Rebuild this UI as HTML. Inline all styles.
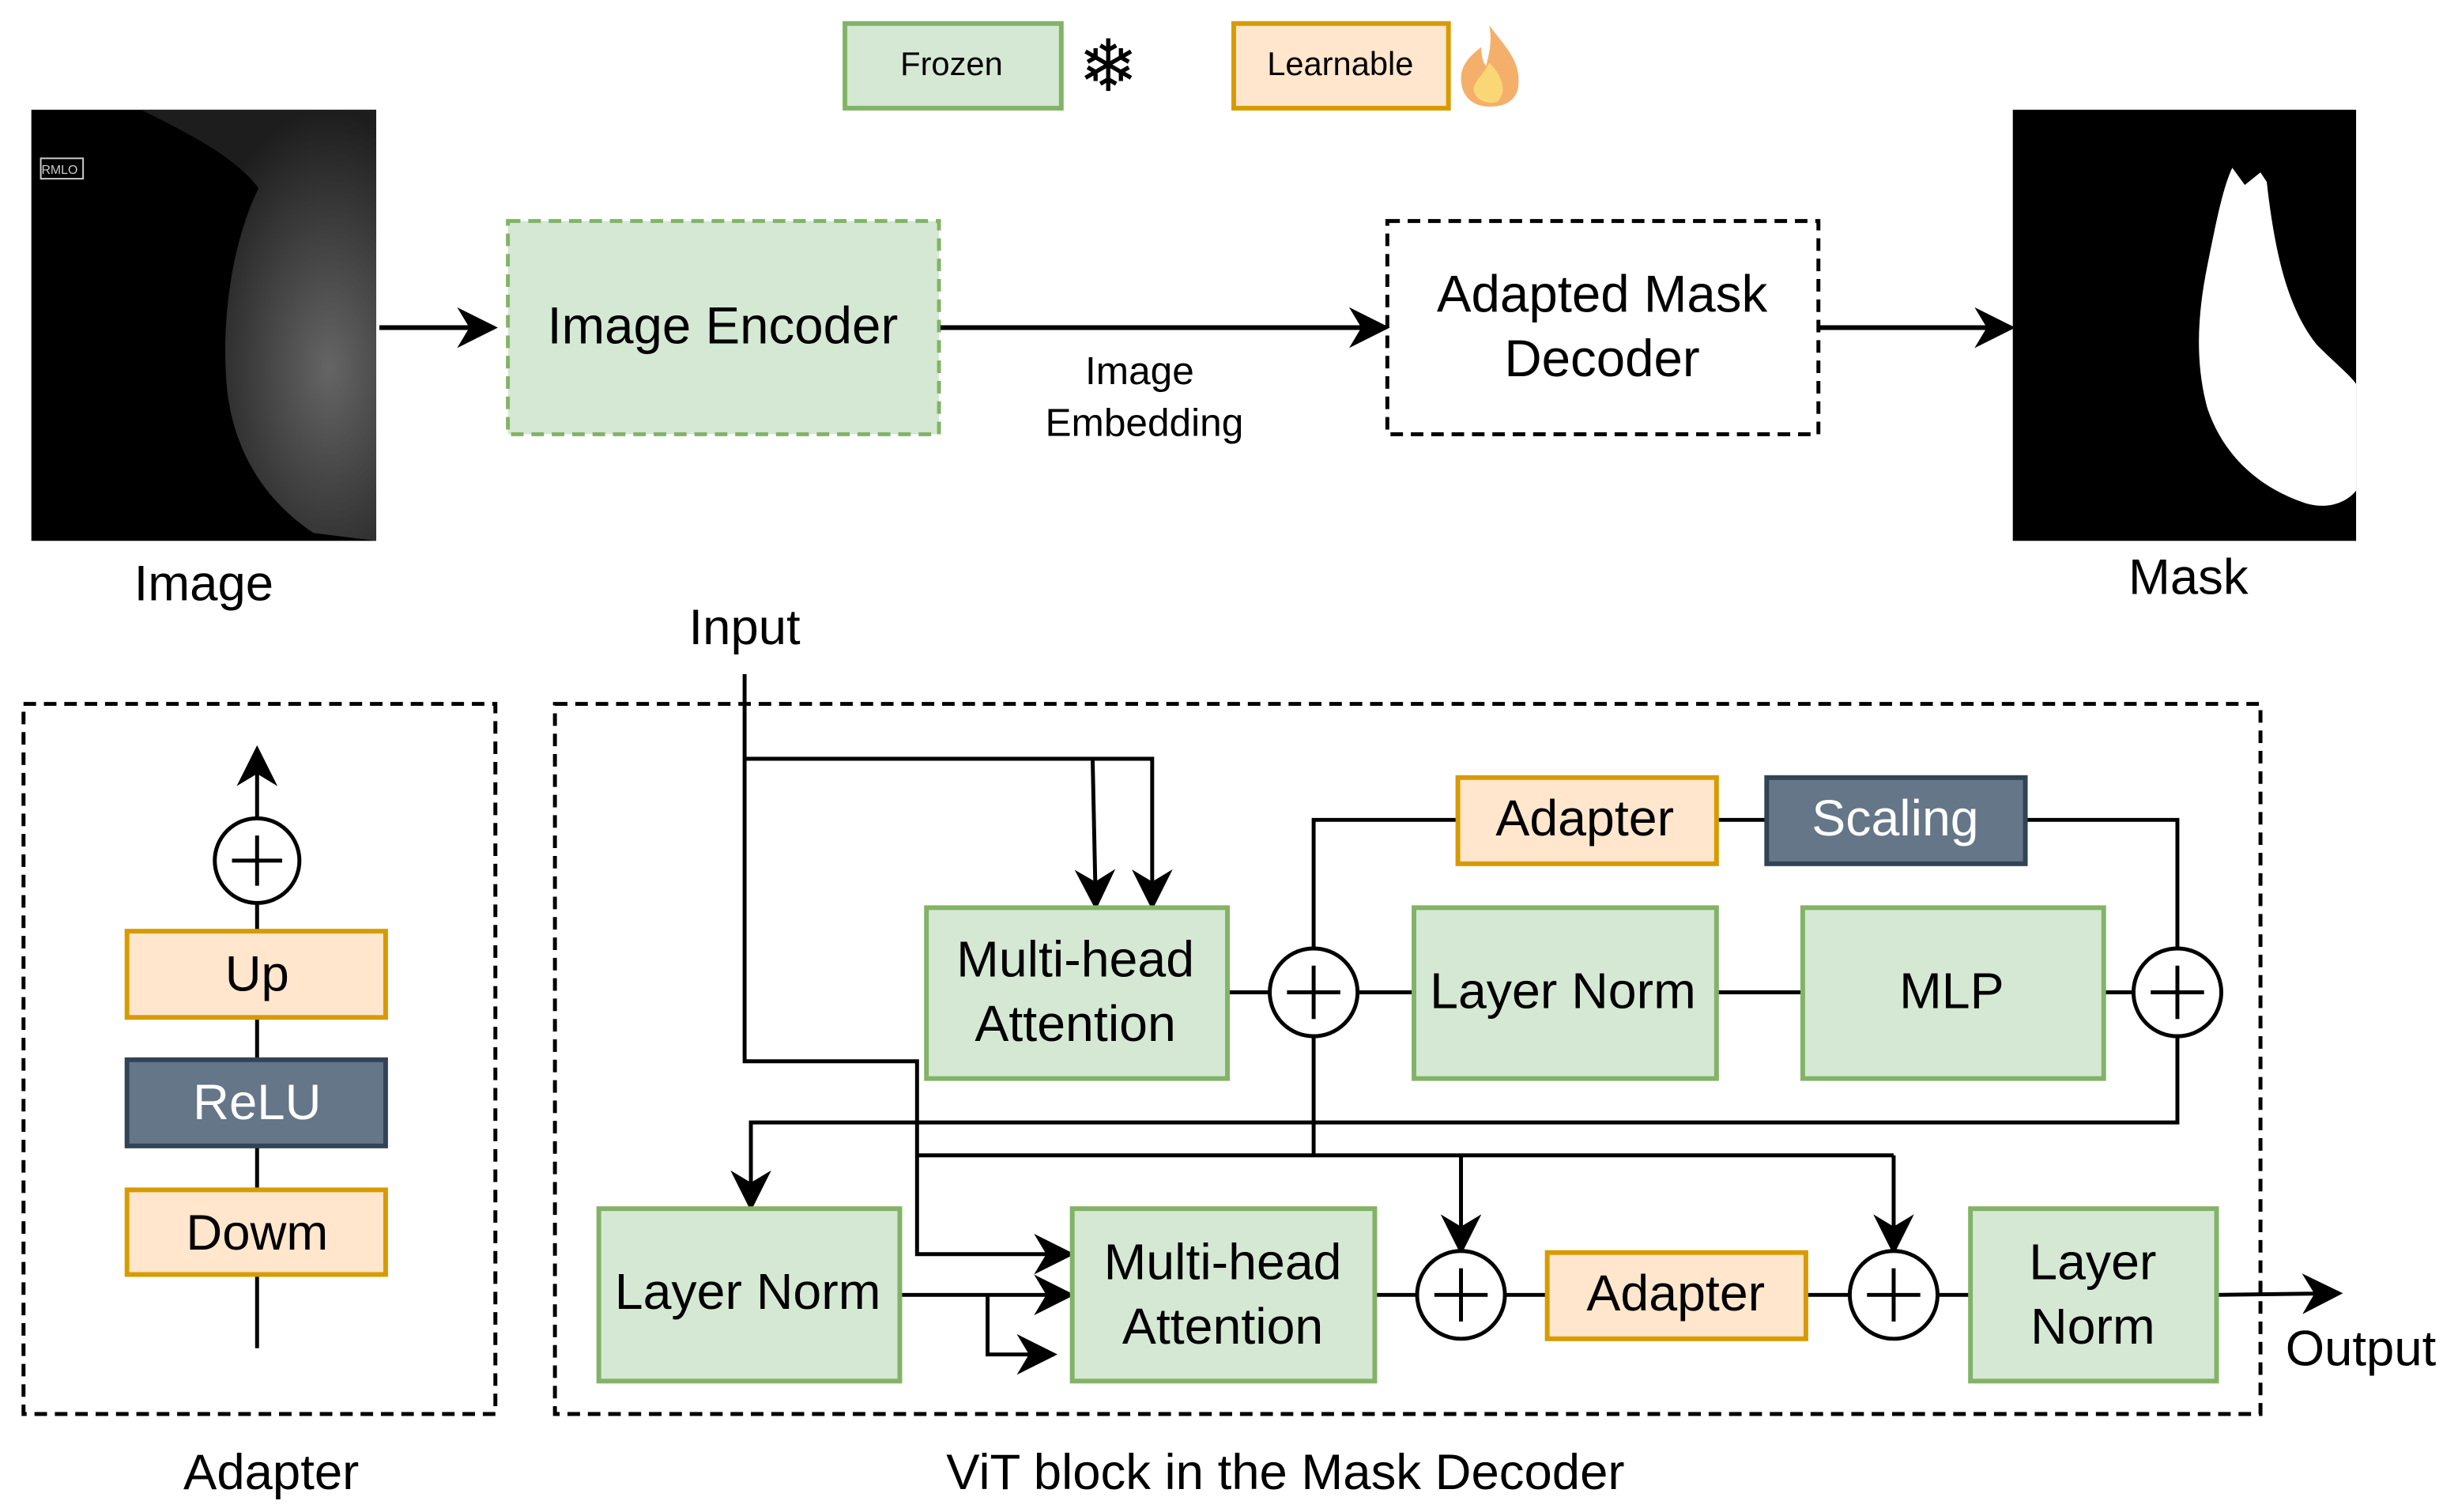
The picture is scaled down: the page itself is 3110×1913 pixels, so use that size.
<!DOCTYPE html>
<html><head><meta charset="utf-8"><style>
html,body{margin:0;padding:0;background:#fff;}
svg{display:block;}
text{font-family:"Liberation Sans",sans-serif;fill:#000;text-anchor:middle;}
</style></head><body>
<svg width="3110" height="1913" viewBox="0 0 1568 964.5" xmlns="http://www.w3.org/2000/svg">
<defs>
<marker id="b" viewBox="0 0 10 10" refX="9" refY="5" markerWidth="26" markerHeight="26" orient="auto" markerUnits="userSpaceOnUse">
<path d="M0,0 L10,5 L0,10 L3,5 z" fill="#000"/></marker>
<radialGradient id="mg" cx="0.8" cy="0.6" r="0.6"><stop offset="0" stop-color="#777"/><stop offset="1" stop-color="#222"/></radialGradient>
</defs>
<!-- legend -->
<rect x="539" y="15" width="138" height="54" fill="#d5e8d4" stroke="#82b366" stroke-width="3"/>
<text x="607" y="48" font-size="21">Frozen</text>
<text x="707" y="58" font-size="46" style="font-family:'DejaVu Sans',sans-serif">❄</text>
<rect x="787" y="15" width="137" height="54" fill="#ffe6cc" stroke="#d79b00" stroke-width="3"/>
<text x="855" y="48" font-size="21">Learnable</text>
<path d="M950,16 C960,30 972,40 968,58 C965,66 958,68 950,68 C940,68 932,62 932,50 C932,40 940,34 945,30 C945,36 946,40 948,42 C950,34 952,26 950,16z" fill="#f4b06a"/>
<path d="M950,40 C958,48 962,58 955,65 C948,67 940,63 940,56 C942,50 946,48 950,40z" fill="#fad776"/>
<!-- mammogram -->
<rect x="20" y="70" width="220" height="275" fill="#000"/>
<path d="M90,70 L240,70 L240,345 L200,340 C170,320 150,290 145,250 C140,200 150,150 165,120 C150,100 120,85 90,70z" fill="url(#mg)" opacity="0.85"/>
<rect x="26" y="101" width="27" height="13" fill="none" stroke="#ccc" stroke-width="1"/>
<text x="38" y="111" font-size="8" style="fill:#ccc">RMLO</text>
<text x="130" y="383" font-size="32">Image</text>
<!-- mask -->
<rect x="1284" y="70" width="219" height="275" fill="#000"/>
<path d="M1424,107 L1432,118 L1442,110 L1446,116 C1452,170 1462,200 1478,220 C1490,232 1500,240 1503,245 L1503,313 C1495,323 1480,325 1468,320 C1440,310 1418,290 1408,260 C1400,230 1402,200 1408,170 C1414,140 1418,120 1424,107z" fill="#fff"/>
<text x="1396" y="379" font-size="32">Mask</text>
<!-- top flow -->
<rect x="324" y="141" width="275" height="136" fill="#d5e8d4" stroke="#82b366" stroke-width="2.5" stroke-dasharray="8,5"/>
<text x="461" y="219" font-size="33">Image Encoder</text>
<rect x="885" y="141" width="275" height="136" fill="#fff" stroke="#000" stroke-width="2.5" stroke-dasharray="8,5"/>
<text x="1022" y="199" font-size="33">Adapted Mask</text>
<text x="1022" y="240" font-size="33">Decoder</text>
<g stroke="#000" stroke-width="3" fill="none">
<line x1="242" y1="209" x2="315" y2="209" marker-end="url(#b)"/>
<line x1="600" y1="209" x2="884" y2="209" marker-end="url(#b)"/>
<line x1="1161" y1="209" x2="1283" y2="209" marker-end="url(#b)"/>
</g>
<text x="727" y="245" font-size="25">Image</text>
<text x="730" y="278" font-size="25">Embedding</text>
<!-- Adapter box -->
<rect x="15" y="449" width="301" height="453" fill="none" stroke="#000" stroke-width="2.5" stroke-dasharray="8,5"/>
<text x="173" y="950" font-size="32">Adapter</text>
<g stroke="#000" stroke-width="2.5" fill="none">
<line x1="164" y1="860" x2="164" y2="522"/>
<line x1="164" y1="522" x2="164" y2="478" marker-end="url(#b)"/>
<circle cx="164" cy="549" r="27" fill="#fff"/>
<line x1="148" y1="549" x2="180" y2="549"/><line x1="164" y1="533" x2="164" y2="565"/>
</g>
<rect x="81" y="594" width="165" height="55" fill="#ffe6cc" stroke="#d79b00" stroke-width="3"/>
<text x="164" y="632" font-size="32">Up</text>
<rect x="81" y="676" width="165" height="55" fill="#647687" stroke="#314354" stroke-width="3"/>
<text x="164" y="714" font-size="32" style="fill:#fff">ReLU</text>
<rect x="81" y="759" width="165" height="54" fill="#ffe6cc" stroke="#d79b00" stroke-width="3"/>
<text x="164" y="797" font-size="32">Dowm</text>
<!-- ViT box -->
<rect x="354" y="449" width="1088" height="453" fill="none" stroke="#000" stroke-width="2.5" stroke-dasharray="8,5"/>
<text x="820" y="950" font-size="32">ViT block in the Mask Decoder</text>
<text x="475" y="411" font-size="32">Input</text>
<g stroke="#000" stroke-width="2.5" fill="none">
<polyline points="475,430 475,677 585,677 585,800 683,800" marker-end="url(#b)"/>
<polyline points="475,484 735,484 735,578" marker-end="url(#b)"/>
<line x1="697" y1="484" x2="699" y2="578" marker-end="url(#b)"/>
<line x1="783" y1="633" x2="902" y2="633"/>
<line x1="1095" y1="633" x2="1149" y2="633"/>
<line x1="1342" y1="633" x2="1389" y2="633"/>
<polyline points="838,633 838,523 929,523"/>
<line x1="1095" y1="523" x2="1127" y2="523"/>
<polyline points="1292,523 1389,523 1389,716 479,716 479,770" marker-end="url(#b)"/>
<line x1="838" y1="633" x2="838" y2="737"/>
<line x1="585" y1="737" x2="1208" y2="737"/>
<line x1="932" y1="737" x2="932" y2="798" marker-end="url(#b)"/>
<line x1="1208" y1="737" x2="1208" y2="798" marker-end="url(#b)"/>
<line x1="574" y1="826" x2="683" y2="826" marker-end="url(#b)"/>
<polyline points="630,826 630,864 672,864" marker-end="url(#b)"/>
<line x1="877" y1="826" x2="1257" y2="826"/>
<line x1="1414" y1="826" x2="1492" y2="825" marker-end="url(#b)"/>
</g>
<rect x="591" y="579" width="192" height="109" fill="#d5e8d4" stroke="#82b366" stroke-width="3"/>
<text x="686" y="623" font-size="32.5">Multi-head</text>
<text x="686" y="664" font-size="32.5">Attention</text>
<rect x="902" y="579" width="193" height="109" fill="#d5e8d4" stroke="#82b366" stroke-width="3"/>
<text x="997" y="643" font-size="32.5">Layer Norm</text>
<rect x="1150" y="579" width="192" height="109" fill="#d5e8d4" stroke="#82b366" stroke-width="3"/>
<text x="1245" y="643" font-size="32.5">MLP</text>
<rect x="930" y="496" width="165" height="55" fill="#ffe6cc" stroke="#d79b00" stroke-width="3"/>
<text x="1011" y="533" font-size="32.5">Adapter</text>
<rect x="1127" y="496" width="165" height="55" fill="#647687" stroke="#314354" stroke-width="3"/>
<text x="1209" y="533" font-size="32.5" style="fill:#fff">Scaling</text>
<rect x="382" y="771" width="192" height="110" fill="#d5e8d4" stroke="#82b366" stroke-width="3"/>
<text x="477" y="835" font-size="32.5">Layer Norm</text>
<rect x="684" y="771" width="193" height="110" fill="#d5e8d4" stroke="#82b366" stroke-width="3"/>
<text x="780" y="816" font-size="32.5">Multi-head</text>
<text x="780" y="857" font-size="32.5">Attention</text>
<rect x="987" y="799" width="165" height="55" fill="#ffe6cc" stroke="#d79b00" stroke-width="3"/>
<text x="1069" y="836" font-size="32.5">Adapter</text>
<rect x="1257" y="771" width="157" height="110" fill="#d5e8d4" stroke="#82b366" stroke-width="3"/>
<text x="1335" y="816" font-size="32.5">Layer</text>
<text x="1335" y="857" font-size="32.5">Norm</text>
<text x="1506" y="871" font-size="32">Output</text>
<g stroke="#000" stroke-width="2.5" fill="#fff">
<circle cx="838" cy="633" r="28"/><circle cx="1389" cy="633" r="28"/>
<circle cx="932" cy="826" r="28"/><circle cx="1208" cy="826" r="28"/>
</g>
<g stroke="#000" stroke-width="2.5">
<path d="M821,633h34M838,616v34M1372,633h34M1389,616v34M915,826h34M932,809v34M1191,826h34M1208,809v34"/>
</g>
</svg>
</body></html>
